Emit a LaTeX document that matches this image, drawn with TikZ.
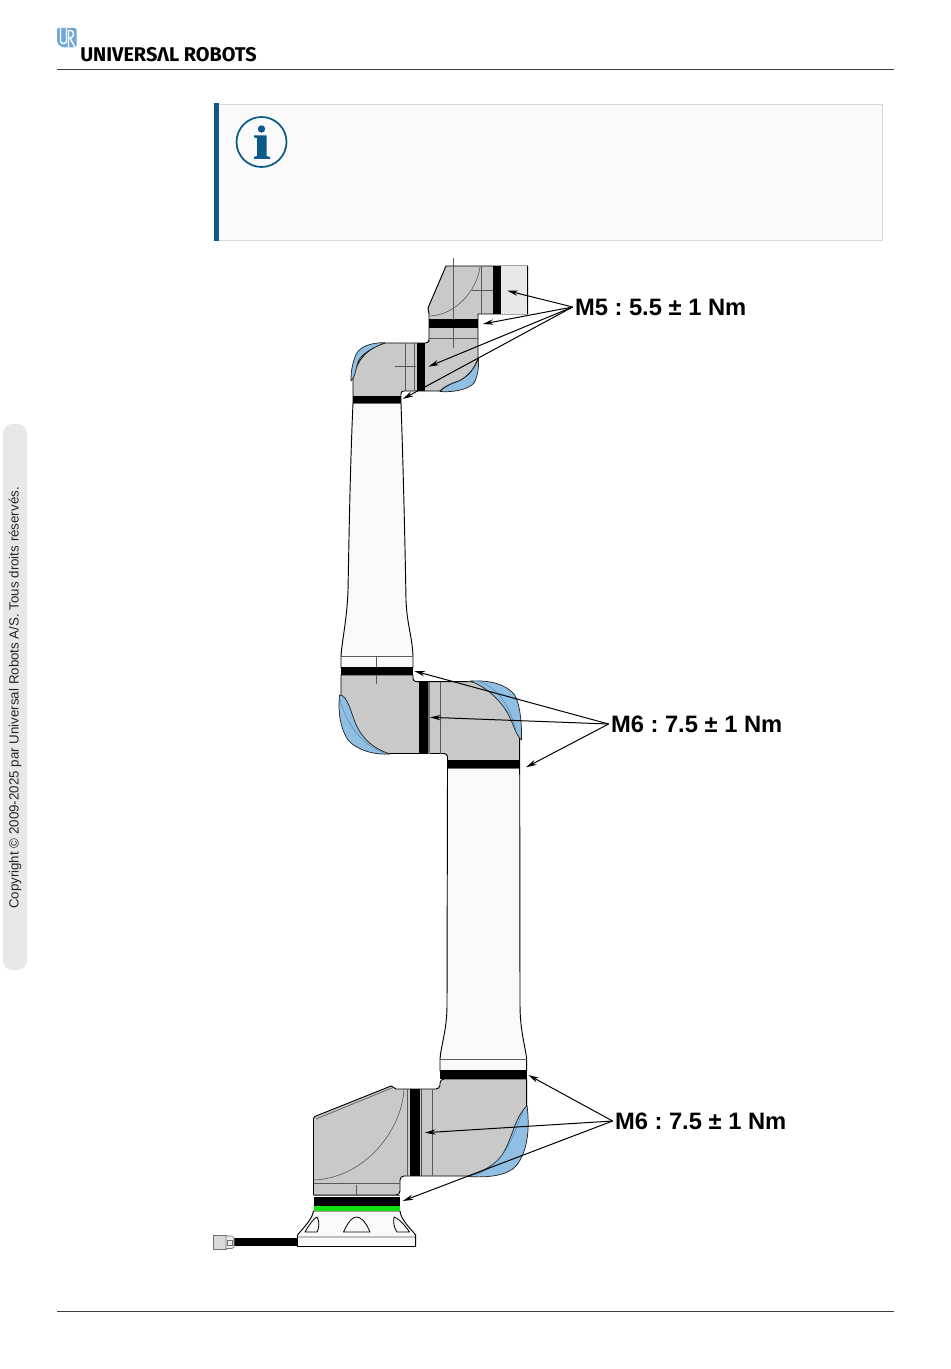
\documentclass[tikz,border=0pt]{standalone}
\usepackage{fontspec}
\setmainfont{Liberation Sans}
\newfontfamily\logofont{Fira Sans}
\usetikzlibrary{arrows.meta}
\definecolor{urblue}{HTML}{0B5A8A}
\definecolor{logoblue}{HTML}{6FA8D6}
\definecolor{joint}{HTML}{C9C9C9}
\definecolor{armwhite}{HTML}{F9F9F9}
\definecolor{cover}{HTML}{8FBFE3}
\definecolor{coverline}{HTML}{4F7F9F}
\definecolor{green2}{HTML}{12E012}
\tikzset{
  body/.style={draw=black,line width=0.7pt,fill=joint,line join=round},
  arm/.style={draw=black,line width=0.7pt,fill=armwhite,line join=round},
  band/.style={fill=black,draw=none},
  thin/.style={draw=black!65,line width=0.45pt},
  bluecap/.style={draw=black!85,line width=0.55pt,fill=cover,line join=round},
  capline/.style={draw=coverline,line width=0.3pt},
  lead/.style={draw=black,line width=0.75pt,-{Stealth[length=8pt,width=4pt]}},
  torque/.style={font=\bfseries\fontsize{17.8pt}{20pt}\selectfont,anchor=west,inner sep=0pt,outer xsep=1.8pt,text=black},
  rule/.style={draw=black!75,line width=0.6pt}
}
\frenchspacing
\begin{document}
\begin{tikzpicture}[x=0.75pt,y=-0.75pt]
\useasboundingbox (0,0) rectangle (950,1369);
\fill[white] (0,0) rectangle (950,1369);
% page furniture
\draw[rule] (57,69.5) -- (894,69.5);
\draw[rule] (57,1311.5) -- (894,1311.5);
\fill[black!9] (3,424) [rounded corners=7pt] -- (27,424) -- (27,970) -- (3,970) -- cycle;
\node[rotate=90,font=\fontsize{10pt}{12pt}\selectfont,text=black!85,inner sep=0pt] (copy) at (15,698) {Copyright © 2009-2025 par Universal Robots A/S. Tous droits réservés.};
% logo
\fill[logoblue,rounded corners=1.5pt] (57,28) -- (76.5,28) -- (76.5,47.5) -- (62,47.5) -- (57,43) -- cycle;
\draw[white,line width=1.05pt] (60.5,28) -- (60.5,41) .. controls (60.5,44.5) and (66.5,44.5) .. (66.5,41) -- (66.5,28);
\draw[white,line width=1.05pt] (68.5,47.5) -- (68.5,30.5) -- (71,30.5) .. controls (74.5,30.5) and (74.5,38) .. (70,38) -- (75,47.5);
\node[font=\logofont\bfseries\fontsize{14.9pt}{17pt}\selectfont,anchor=west,inner sep=0pt] (logo) at (80,55) {UNIVERSΛL ROBOTS};
% info box
\draw[draw=black!15,fill=black!2,line width=0.6pt] (214,104) rectangle (882.5,240.5);
\fill[urblue] (214,103.5) rectangle (219,241);
\draw[urblue,line width=1.3pt] (261.5,142) circle[radius=25];
\fill[urblue] (261.5,129) circle[radius=3.7];
\fill[urblue] (254,135.5) -- (266.5,135.5) -- (266.5,156) -- (270,157) -- (270,159) -- (254,159) -- (254,157) -- (257,156) -- (257,138) -- (254,137.5) -- cycle;
% upper arm / forearm tubes
\draw[arm] (353,403) .. controls (350,470) and (349,540) .. (348,590) .. controls (347,620) and (342,640) .. (341,656) -- (341,668) -- (413,668) -- (413,656) .. controls (412,635) and (407,625) .. (406,600) .. controls (405,540) and (403,460) .. (401,403) -- cycle;
\draw[arm] (447.5,768) -- (447,1005) .. controls (447,1030) and (441,1045) .. (440,1059) -- (440,1071) -- (526.7,1071) -- (526.7,1059) .. controls (525,1045) and (520,1030) .. (520,1005) -- (519.7,768) -- cycle;
\draw[thin] (341,656) -- (413,656);
\draw[thin] (440,1059) -- (526.7,1059);
% wrist 3 + wrist 2
\draw[body] (446,266) -- (527.7,266) -- (527.7,314) -- (478,314) -- (478,358) .. controls (475,368) and (469,376) .. (459,381) .. controls (450,384) and (444,387) .. (440,391) -- (403,391) [rounded corners=2pt] -- (401,391) -- (401,397) [sharp corners] -- (401,403) -- (353,403) -- (353,378) .. controls (356,365) and (362,350) .. (385,343) -- (425,343) [rounded corners=2.5pt] -- (429,343) -- (429,338) [sharp corners] -- (429,314) -- (428,308) -- cycle;
\fill[black!9] (501,266.3) rectangle (527.4,313.7);
\draw[thin] (453.3,258) -- (453.3,348);
\draw[band] (493.3,266) rectangle (501,314);
\draw[band] (429,319) rectangle (478,328);
\draw[band] (416.7,343) rectangle (424.7,391);
\draw[band] (353,396) rectangle (401,403);
\draw[thin] (472,290.7) -- (493,290.7);
\draw[thin] (481.7,266) -- (481.7,314);
\draw[thin] (480,267) .. controls (477,290) and (456,315) .. (430,316);
\draw[thin] (429,338) -- (478,338);
\draw[thin] (405.3,343) -- (405.3,391);
\draw[thin] (395,366.7) -- (416,366.7);
\draw[thin] (414.5,343) -- (414.5,391);
% caps of wrist joint
\draw[bluecap] (385,342.7) .. controls (370,342.5) and (358,347) .. (355,357) .. controls (352,365) and (351,372) .. (351,381) .. controls (355,378) and (356,368) .. (358,362) .. controls (361,354) and (372,348) .. (385,342.7) -- cycle;
\draw[bluecap] (440,391.5) .. controls (452,392.5) and (468,390) .. (474,383) .. controls (478,376) and (479,366) .. (478.5,358) .. controls (475,368) and (469,376) .. (459,381) .. controls (450,384) and (444,387) .. (440,391.5) -- cycle;
% elbow
\draw[thin] (376.5,656) -- (376.5,684);
\draw[body] (341,675) -- (413,675) [rounded corners=2.5pt] -- (413,681.7) -- (470,681.7) [sharp corners] .. controls (500,683) and (520,700) .. (519.7,735) -- (519.7,768) -- (447.5,768) -- (447.5,760) [rounded corners=2.5pt] -- (447.5,753.5) -- (380,753.5) [sharp corners] .. controls (355,750) and (341,735) .. (341,705) -- cycle;
\draw[band] (341,667) rectangle (413,675);
\draw[band] (447.5,760) rectangle (519.7,768);
\draw[band] (419.3,682) rectangle (427.7,753.5);
\fill[black!55] (428,682) rectangle (430,753.5);
\draw[thin] (440.3,682) -- (440.3,753.5);
\draw[thin] (376.5,675) -- (376.5,684);
\draw[bluecap] (470,681) .. controls (490,680) and (505,684) .. (514,694) .. controls (520,702) and (522,725) .. (521.5,740) .. controls (516,735) and (514,726) .. (510,718) .. controls (505,706) and (490,688) .. (470,681) -- cycle;
\draw[capline] (480,682) .. controls (497,688) and (508,702) .. (516,730);
\draw[bluecap] (339.5,695) .. controls (338,712) and (340,728) .. (348,740) .. controls (358,751) and (375,755) .. (390,754) .. controls (378,750) and (368,744) .. (360,732) .. controls (352,720) and (350,700) .. (342,695.5) -- cycle;
\draw[capline] (340,700) .. controls (346,722) and (360,744) .. (384,753);
% shoulder
\draw[body] (391,1086) .. controls (393,1086.5) and (394,1088) .. (396,1089) -- (436,1089) [rounded corners=3pt] -- (440,1089) -- (440,1079) [sharp corners] -- (526.7,1079) -- (526.7,1105) .. controls (527,1140) and (520,1176) .. (470,1176) -- (404,1176) [rounded corners=3pt] -- (400,1176) -- (400,1195) [sharp corners] -- (313.5,1195) -- (313.5,1119) .. controls (313.5,1117) and (315,1116.5) .. (316,1116) -- cycle;
\draw[thin,line width=0.5pt] (316,1119) -- (393,1087.5);
\draw[band] (440,1070) rectangle (526.7,1079);
\draw[band] (410.3,1089) rectangle (420,1176);
\fill[black!70] (420.5,1089) rectangle (422,1176);
\draw[thin] (407.5,1089) -- (407.5,1176);
\draw[thin] (432.5,1089) -- (432.5,1176);
\draw[thin] (313.5,1183.5) -- (400,1183.5);
\draw[thin] (404,1089) .. controls (402,1130) and (365,1178) .. (313.5,1180);
\draw[thin] (356.5,1185) -- (356.5,1196);
\draw[bluecap] (527,1105.5) .. controls (529.5,1125) and (529,1150) .. (516,1166) .. controls (508,1175) and (490,1178) .. (468,1176.5) .. controls (480,1172) and (497,1166) .. (505,1150) .. controls (514,1132) and (515,1118) .. (527,1105.5) -- cycle;
\draw[capline] (523,1112) .. controls (513,1132) and (510,1160) .. (476,1175);
% base
\draw[arm] (313.5,1211) .. controls (312,1220) and (303,1228) .. (297.5,1235) -- (297.5,1246.5) -- (415.7,1246.5) -- (415.7,1235) .. controls (410,1228) and (401,1220) .. (400,1211) -- cycle;
\fill[black!25] (298,1235.5) rectangle (415.2,1238);
\draw[arm,line width=0.6pt] (343.5,1232) .. controls (349,1220) and (353,1217) .. (356.5,1217) .. controls (360,1217) and (365,1220) .. (370,1232) -- cycle;
\draw[arm,line width=0.6pt] (305,1232) .. controls (309,1225) and (314,1218) .. (317,1217) .. controls (320,1222) and (319,1228) .. (317,1232) -- cycle;
\draw[arm,line width=0.6pt] (409.5,1232) .. controls (405,1225) and (398,1218) .. (394,1217) .. controls (393,1222) and (394,1228) .. (397,1232) -- cycle;
\fill[black] (313.5,1197) rectangle (400,1206);
\draw[thin] (313.5,1195) -- (400,1195);
\fill[green2] (313.5,1206) rectangle (400,1211);
% cable and plug
\fill[black] (234,1238) rectangle (298,1246);
\draw[black!55,fill=black!15,line width=0.5pt] (213.5,1235.5) rectangle (226,1249);
\draw[black!55,fill=black!8,line width=0.5pt] (226,1236) -- (232,1236) -- (234,1238) -- (234,1247) -- (232,1248.5) -- (226,1248.5) -- cycle;
\draw[black!55,line width=0.4pt] (227,1240) rectangle (232,1245);
% labels and leaders
\node[torque] (m5) at (572.6,307) {M5 : 5.5 ± 1 Nm};
\node[torque] (m6a) at (608.6,724) {M6 : 7.5 ± 1 Nm};
\node[torque] (m6b) at (612.6,1121) {M6 : 7.5 ± 1 Nm};
\coordinate (a1) at (507.3,290.7);
\coordinate (a2) at (482.7,324);
\coordinate (a3) at (428.3,366.7);
\coordinate (a4) at (402.7,399);
\coordinate (b1) at (414.3,671);
\coordinate (b2) at (430,717.3);
\coordinate (b3) at (526,767.3);
\coordinate (c1) at (528.3,1075);
\coordinate (c2) at (425,1132.7);
\coordinate (c3) at (402.7,1201);
\foreach \t in {a1,a2,a3,a4} \draw[lead] (m5.west) -- (\t);
\foreach \t in {b1,b2,b3} \draw[lead] (m6a.west) -- (\t);
\foreach \t in {c1,c2,c3} \draw[lead] (m6b.west) -- (\t);
\end{tikzpicture}
\end{document}
